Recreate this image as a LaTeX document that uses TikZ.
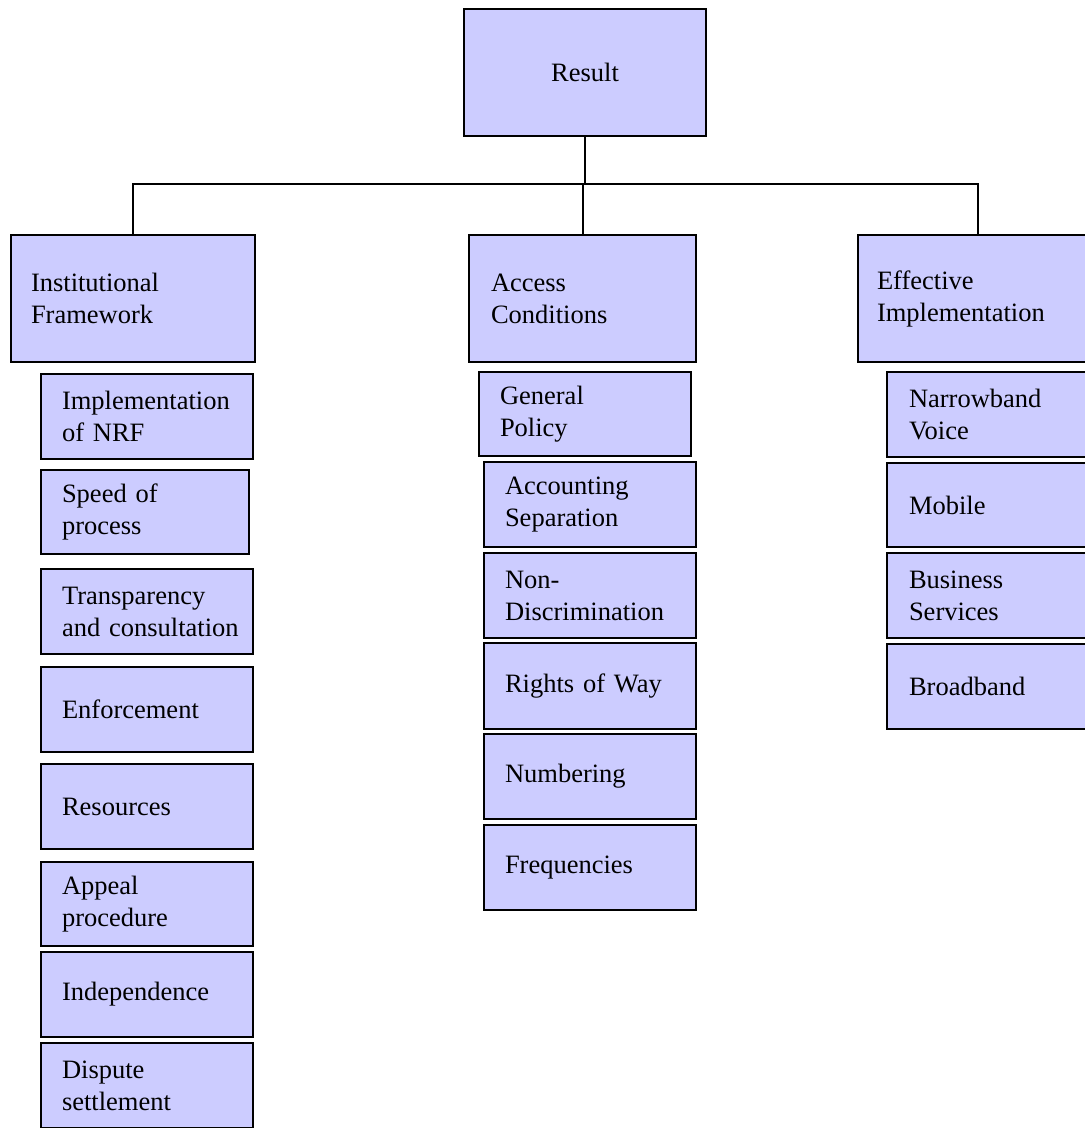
\documentclass[tikz,border=0pt]{standalone}
\usepackage{fontspec}
\setmainfont{Liberation Serif}
\definecolor{boxfill}{RGB}{204,204,255}
\tikzset{
  box/.style={draw=black, fill=boxfill, line width=2pt, rectangle, inner ysep=0pt,
    align=left, font=\fontsize{26.5pt}{32pt}\selectfont},
  conn/.style={draw=black, line width=2pt},
}
\newcommand{\bx}[7][21]{%
  \pgfmathsetmacro\bxw{#5-#3}\pgfmathsetmacro\bxh{#6-#4}\pgfmathsetmacro\bxt{#5-#3-2*#1}%
  \node[box, inner xsep=#1pt, minimum width=\bxw pt, minimum height=\bxh pt,
    text width=\bxt pt, anchor=north west] (#2) at (#3,#4) {#7};}
\begin{document}
\begin{tikzpicture}[x=1pt, y=-1pt]
\clip (0,0) rectangle (1085,1128);
\fill[white] (0,0) rectangle (1085,1128);
% top
\node[box, align=center, minimum width=242pt, minimum height=127pt, anchor=north west] (res) at (463,8) {Result};
% level 1
\bx[20]{inst}{10}{234}{254}{361}{Institutional\\Framework}
\bx[22]{acc}{468}{234}{695}{361}{Access\\Conditions}
\bx[19]{eff}{857}{234}{1097}{361}{Effective\\Implementation}
% connectors
\coordinate (bus) at (583,184);
\draw[conn] (res.south) -- (res.south |- bus);
\draw[conn] (inst.north) -- (inst.north |- bus) -- (eff.north |- bus) -- (eff.north);
\draw[conn] (acc.north) -- (acc.north |- bus);
% left column
\bx{l1}{40}{373}{252}{458}{Implementation\\of NRF}
\bx{l2}{40}{469}{248}{553}{Speed of\\process}
\bx{l3}{40}{568}{252}{653}{Transparency\\\mbox{and consultation}}
\bx{l4}{40}{666}{252}{751}{Enforcement}
\bx{l5}{40}{763}{252}{848}{Resources}
\bx{l6}{40}{861}{252}{945}{Appeal\\procedure}
\bx{l7}{40}{951}{252}{1036}{Independence}
\bx{l8}{40}{1042}{252}{1127}{Dispute\\settlement}
% middle column
\bx{m1}{478}{371}{690}{455}{General\\Policy}
\bx{m2}{483}{461}{695}{546}{Accounting\\Separation}
\bx{m3}{483}{552}{695}{637}{Non-\\Discrimination}
\bx{m4}{483}{642}{695}{728}{Rights of Way}
\bx{m5}{483}{733}{695}{818}{Numbering}
\bx{m6}{483}{824}{695}{909}{Frequencies}
% right column
\bx[22]{r1}{886}{371}{1098}{456}{Narrowband\\Voice}
\bx[22]{r2}{886}{462}{1098}{546}{Mobile}
\bx[22]{r3}{886}{552}{1098}{637}{Business\\Services}
\bx[22]{r4}{886}{643}{1098}{728}{Broadband}
\end{tikzpicture}
\end{document}
